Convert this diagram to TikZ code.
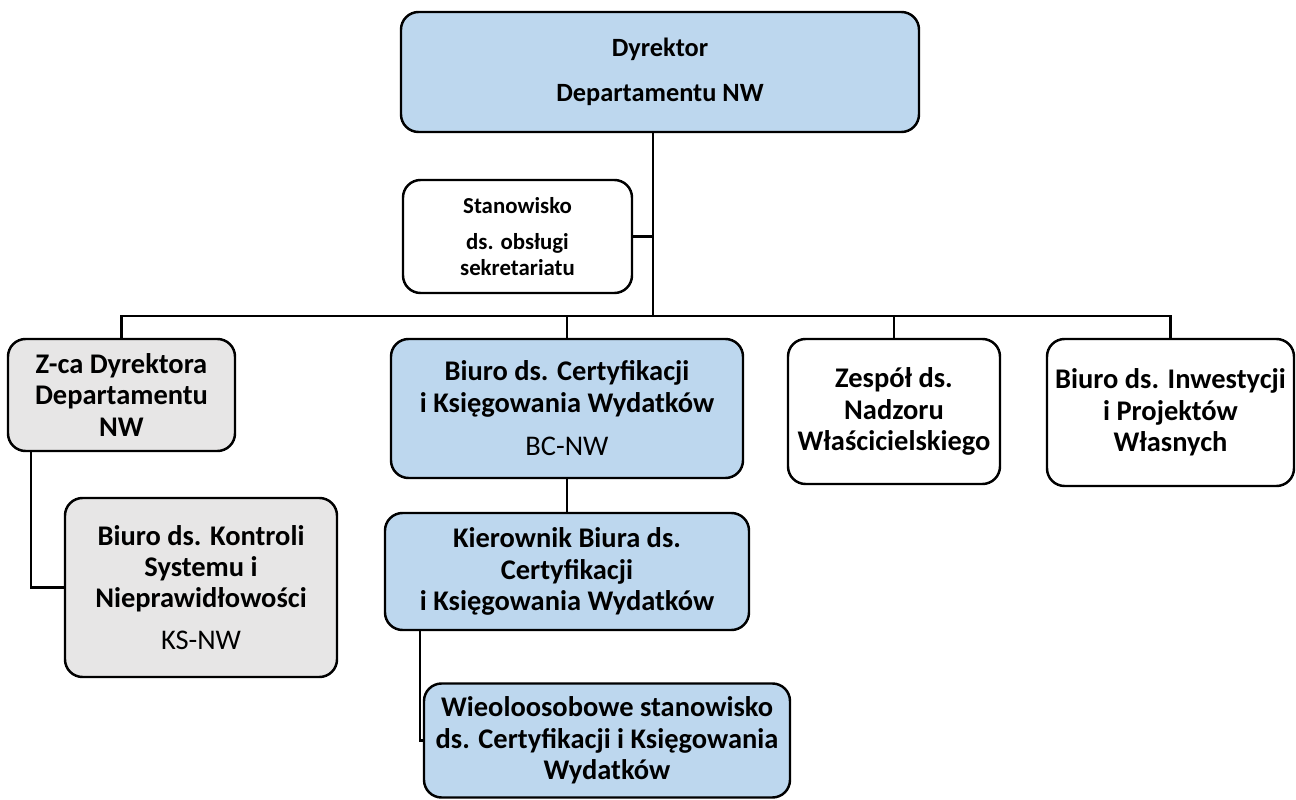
\documentclass[tikz,border=0pt]{standalone}
\usepackage{fontspec}
\setmainfont{Carlito}
\begin{document}
\begin{tikzpicture}[x=0.02cm,y=-0.02cm,
  box/.style={draw=black,line width=1.4pt,rounded corners=10pt,align=center,inner sep=0pt,
    font=\fontsize{16.2}{17.8}\selectfont\bfseries},
  bluebox/.style={box,fill=blue1},
  greybox/.style={box,fill=grey1},
  whitebox/.style={box,fill=white},
  conn/.style={line width=1.2pt}]
\definecolor{blue1}{HTML}{BDD7EE}
\definecolor{grey1}{HTML}{E7E6E6}
\useasboundingbox (0,0) rectangle (1296,800);
\def\px{0.02cm}
\coordinate (bus) at (653,316);
\node[bluebox,minimum width=518*\px,minimum height=120*\px,font=\fontsize{15}{17.6}\selectfont\bfseries] (dyr) at (660,72) {Dyrektor\\[8pt]Departamentu NW};
\node[whitebox,minimum width=229*\px,minimum height=113*\px,font=\fontsize{13}{14.5}\selectfont\bfseries] (stan) at (517.5,236.5) {Stanowisko\\[6pt]ds. obsługi\\sekretariatu};
\node[greybox,minimum width=227*\px,minimum height=112*\px] (zca) at (121.5,395) {Z-ca Dyrektora\\Departamentu\\NW};
\node[bluebox,minimum width=352*\px,minimum height=139*\px] (bc) at (567,408.5) {Biuro ds. Certyfikacji\\i Księgowania Wydatków\\[7pt]{\mdseries BC-NW}};
\node[whitebox,minimum width=212*\px,minimum height=145*\px] (zes) at (894,411.5) {Zespół ds.\\Nadzoru\\Właścicielskiego};
\node[whitebox,minimum width=247*\px,minimum height=147*\px] (inw) at (1170.5,412.5) {Biuro ds. Inwestycji\\i Projektów\\Własnych};
\node[bluebox,minimum width=364*\px,minimum height=117*\px] (kier) at (567,571.5) {Kierownik Biura ds.\\Certyfikacji\\i Księgowania Wydatków};
\node[bluebox,minimum width=366*\px,minimum height=114*\px] (wiel) at (607,740.5) {Wieoloosobowe stanowisko\\ds. Certyfikacji i Księgowania\\Wydatków};
\node[greybox,minimum width=272*\px,minimum height=179*\px] (kon) at (201,587.5) {Biuro ds. Kontroli\\Systemu i\\Nieprawidłowości\\[6pt]{\mdseries KS-NW}};
% connectors
\draw[conn] (dyr.south -| bus) -- (bus);
\draw[conn] (stan.east) -- (stan.east -| bus);
\draw[conn] (zca.north) -- (zca.north |- bus) -- (inw.north |- bus) -- (inw.north);
\draw[conn] (bc.north) -- (bc.north |- bus);
\draw[conn] (zes.north) -- (zes.north |- bus);
\draw[conn] (bc.south) -- (kier.north);
\draw[conn] ([xshift=36*\px]kier.south west) |- (wiel.west);
\draw[conn] ([xshift=24*\px]zca.south west) |- (kon.west);
\end{tikzpicture}
\end{document}
